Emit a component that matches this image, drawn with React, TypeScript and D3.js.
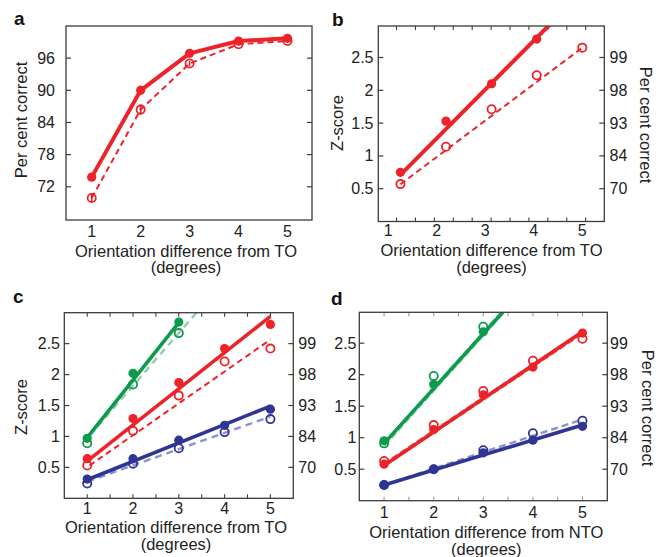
import React from 'react';
import * as d3 from 'd3';

const RED = '#ec2329';
const GREEN = '#0c9a4b';
const BLUE = '#2f3593';
const LGREEN = '#8fd2a8';
const LBLUE = '#8e90d2';
const AXIS = '#3c3c3c';
const FONT = "'Liberation Sans', Arial, Helvetica, sans-serif";

// ---------- data ----------
const xInt = [1, 2, 3, 4, 5];
const zTicks = [0.5, 1, 1.5, 2, 2.5];
const zTickLabels = ['0.5', '1', '1.5', '2', '2.5'];
const pctTickLabels = ['70', '84', '93', '98', '99'];
const xTickLabels = ['1', '2', '3', '4', '5'];

// panel a (per cent correct)
const aYTicks = [72, 78, 84, 90, 96];
const aFilled = [73.8, 90.0, 96.9, 99.2, 99.7];
const aFilledErr = [0.6, 0.9, 0.3, 0.25, 0.2];
const aOpen = [69.9, 86.4, 95.0, 98.6, 99.2];
const aOpenErr = [0.9, 1.0, 0.5, 0.3, 0.25];

// panel b (z-score)
const bX = [1.25, 2.19, 3.13, 4.06, 5.0];
const bFilled = [0.75, 1.53, 2.1, 2.78];
const bOpen = [0.57, 1.14, 1.71, 2.23, 2.65];
// fit lines: [xStart, xEnd, value at xStart, slope]
const bFitFilled = [1.25, 4.6, 0.71, 0.744];
const bFitOpen = [1.25, 5.0, 0.567, 0.555];
const bMinorTicks = [1.17, 1.56, 1.95, 2.34, 2.73, 3.12, 3.51, 3.9, 4.29, 4.68, 5.07];

// panel c
const cGreenFilled = [0.97, 2.02, 2.85];
const cGreenOpen = [0.89, 1.84, 2.67];
const cRedFilled = [0.64, 1.29, 1.87, 2.42, 2.81];
const cRedOpen = [0.53, 1.09, 1.66, 2.21, 2.42];
const cBlueFilled = [0.31, 0.64, 0.94, 1.18, 1.44];
const cBlueOpen = [0.24, 0.56, 0.81, 1.07, 1.28];
const cFitGreenFilled = [1, 3, 0.98, 0.93];
const cFitGreenOpen = [1.05, 3.6, 1.01, 0.852];
const cFitRedFilled = [1, 5, 0.6, 0.585];
const cFitRedOpen = [1.05, 5, 0.53, 0.515];
const cFitBlueFilled = [1, 5, 0.3, 0.2975];
const cFitBlueOpen = [1, 5, 0.27, 0.2625];

// panel d
const dGreenFilled = [0.95, 1.85, 2.68];
const dGreenOpen = [0.91, 1.98, 2.76];
const dRedFilled = [0.58, 1.13, 1.68, 2.12, 2.66];
const dRedOpen = [0.63, 1.2, 1.74, 2.22, 2.57];
const dBlueFilled = [0.25, 0.5, 0.76, 0.96, 1.18];
const dBlueOpen = [0.25, 0.5, 0.8, 1.07, 1.27];
const dFitGreenFilled = [1, 3.6, 0.91, 0.87];
const dFitGreenOpen = [1, 3.6, 0.89, 0.88];
const dFitRedFilled = [1, 5, 0.56, 0.53];
const dFitRedOpen = [1, 5, 0.57, 0.525];
const dFitBlueFilled = [1, 5, 0.25, 0.2375];
const dFitBlueOpen = [1, 5, 0.25, 0.26];

const halfTicks = [1, 1.5, 2, 2.5, 3, 3.5, 4, 4.5, 5];

type Box = { l: number; r: number; t: number; b: number };
type Series = { x: number[]; y: number[]; color: string; filled: boolean; err?: number[] };
type Fit = { p: number[]; color: string; width: number; dash?: string };
type Conn = { x: number[]; y: number[]; color: string; width: number; dash?: string };

type PanelProps = {
  id: string;
  box: Box;
  xDomain: [number, number];
  yDomain: [number, number];
  yTicks: number[];
  yLabels: string[];
  leftLabelX: number;
  rightLabels?: string[];
  rightLabelX?: number;
  xLabelBaseline: number;
  minorX?: number[];
  minorColor?: string;
  series: Series[];
  fits?: Fit[];
  conns?: Conn[];
};

function Panel(p: PanelProps) {
  const { box } = p;
  const x = d3.scaleLinear().domain(p.xDomain).range([box.l, box.r]);
  const y = d3.scaleLinear().domain(p.yDomain).range([box.b, box.t]);
  const line = d3
    .line<[number, number]>()
    .x((d) => x(d[0]))
    .y((d) => y(d[1]));
  const TL = 5;
  const clipId = 'clip-' + p.id;
  return (
    <g>
      <defs>
        <clipPath id={clipId}>
          <rect x={box.l} y={box.t} width={box.r - box.l} height={box.b - box.t} />
        </clipPath>
      </defs>
      {(p.minorX || []).map((v, i) => (
        <g key={'mx' + i} stroke={p.minorColor || AXIS} strokeWidth={1.1}>
          <line x1={x(v)} x2={x(v)} y1={box.t} y2={box.t + 4} />
          <line x1={x(v)} x2={x(v)} y1={box.b} y2={box.b - 4} />
        </g>
      ))}
      {p.yTicks.map((v, i) => (
        <g key={'yt' + i} stroke={AXIS} strokeWidth={1.2}>
          <line x1={box.l} x2={box.l + TL} y1={y(v)} y2={y(v)} />
          <line x1={box.r} x2={box.r - TL} y1={y(v)} y2={y(v)} />
        </g>
      ))}
      <g clipPath={`url(#${clipId})`}>
        {(p.conns || []).map((c, i) => (
          <path
            key={'c' + i}
            d={line(c.x.map((xv, j) => [xv, c.y[j]] as [number, number])) || ''}
            fill="none"
            stroke={c.color}
            strokeWidth={c.width}
            strokeDasharray={c.dash}
            strokeLinejoin="round"
          />
        ))}
        {(p.fits || []).map((f, i) => {
          const [x0, x1, y0, s] = f.p;
          const pts: [number, number][] = [
            [x0, y0],
            [x1, y0 + s * (x1 - x0)],
          ];
          return (
            <path
              key={'f' + i}
              d={line(pts) || ''}
              fill="none"
              stroke={f.color}
              strokeWidth={f.width}
              strokeDasharray={f.dash}
            />
          );
        })}
      </g>
      {p.series.map((s, i) =>
        s.y.map((v, j) => (
          <g key={'s' + i + '-' + j}>
            {s.err && (
              <line
                x1={x(s.x[j])}
                x2={x(s.x[j])}
                y1={y(v - s.err[j])}
                y2={y(v + s.err[j])}
                stroke={s.color}
                strokeWidth={1.6}
              />
            )}
            <circle
              cx={x(s.x[j])}
              cy={y(v)}
              r={s.filled ? 4.6 : 4.1}
              fill={s.filled ? s.color : 'none'}
              stroke={s.color}
              strokeWidth={s.filled ? 0 : 1.8}
            />
          </g>
        ))
      )}
      <rect
        x={box.l}
        y={box.t}
        width={box.r - box.l}
        height={box.b - box.t}
        fill="none"
        stroke={AXIS}
        strokeWidth={1.3}
      />
      <g fontFamily={FONT} fontSize={16} fill="#222">
        {p.yTicks.map((v, i) => (
          <text key={'yl' + i} x={p.leftLabelX} y={y(v)} dy="0.35em" textAnchor="end">
            {p.yLabels[i]}
          </text>
        ))}
        {p.rightLabels &&
          p.yTicks.map((v, i) => (
            <text key={'yr' + i} x={p.rightLabelX} y={y(v)} dy="0.35em" textAnchor="start">
              {p.rightLabels![i]}
            </text>
          ))}
        {xInt.map((v, i) => (
          <text key={'xl' + i} x={x(v)} y={p.xLabelBaseline} textAnchor="middle">
            {xTickLabels[i]}
          </text>
        ))}
      </g>
    </g>
  );
}

function XTitle({ cx, y1, y2, text }: { cx: number; y1: number; y2: number; text: string }) {
  return (
    <g fontFamily={FONT} fontSize={16.5} fill="#222" textAnchor="middle">
      <text x={cx} y={y1}>{text}</text>
      <text x={cx} y={y2}>(degrees)</text>
    </g>
  );
}

function YTitle({ cx, cy, rot, text }: { cx: number; cy: number; rot: number; text: string }) {
  return (
    <text
      transform={`translate(${cx},${cy}) rotate(${rot})`}
      dy="0.35em"
      textAnchor="middle"
      fontFamily={FONT}
      fontSize={16.5}
      fill="#222"
    >
      {text}
    </text>
  );
}

function Letter({ x, y, t }: { x: number; y: number; t: string }) {
  return (
    <text x={x} y={y} fontFamily={FONT} fontWeight="bold" fontSize={19} fill="#111">
      {t}
    </text>
  );
}

export default function App() {
  return (
    <svg
      width={669}
      height={557}
      style={{ position: 'absolute', left: 0, top: 0, background: '#fff' }}
    >
      <rect width={669} height={557} fill="#fff" />
      {/* a */}
      <Panel
        id="a"
        box={{ l: 66, r: 312, t: 26, b: 220 }}
        xDomain={[0.475, 5.5]}
        yDomain={[65.8, 102]}
        yTicks={aYTicks}
        yLabels={aYTicks.map(String)}
        leftLabelX={55}
        xLabelBaseline={237}
        conns={[
          { x: xInt, y: aOpen, color: RED, width: 2, dash: '6,4' },
          { x: xInt, y: aFilled, color: RED, width: 4 },
        ]}
        series={[
          { x: xInt, y: aOpen, color: RED, filled: false, err: aOpenErr },
          { x: xInt, y: aFilled, color: RED, filled: true, err: aFilledErr },
        ]}
      />
      <Letter x={14} y={25} t="a" />
      <YTitle cx={21} cy={120} rot={-90} text="Per cent correct" />
      <XTitle cx={186} y1={256.5} y2={273} text="Orientation difference from TO" />

      {/* b */}
      <Panel
        id="b"
        box={{ l: 378.3, r: 604.3, t: 26, b: 221.5 }}
        xDomain={[0.794, 5.454]}
        yDomain={[0, 2.98]}
        yTicks={zTicks}
        yLabels={zTickLabels}
        leftLabelX={373.5}
        rightLabels={pctTickLabels}
        rightLabelX={609.5}
        xLabelBaseline={236}
        minorX={bMinorTicks}
        fits={[
          { p: bFitOpen, color: RED, width: 2, dash: '6,4' },
          { p: bFitFilled, color: RED, width: 4 },
        ]}
        series={[
          { x: bX, y: bOpen, color: RED, filled: false },
          { x: bX, y: bFilled, color: RED, filled: true },
        ]}
      />
      <Letter x={332} y={26} t="b" />
      <YTitle cx={337.5} cy={123} rot={-90} text="Z-score" />
      <YTitle cx={646} cy={125} rot={90} text="Per cent correct" />
      <XTitle cx={491.5} y1={256} y2={273} text="Orientation difference from TO" />

      {/* c */}
      <Panel
        id="c"
        box={{ l: 64.3, r: 293.3, t: 312.7, b: 498.3 }}
        xDomain={[0.5, 5.5]}
        yDomain={[0, 3.0]}
        yTicks={zTicks}
        yLabels={zTickLabels}
        leftLabelX={60}
        rightLabels={pctTickLabels}
        rightLabelX={298.3}
        xLabelBaseline={514}
        minorX={halfTicks}
        fits={[
          { p: cFitGreenOpen, color: LGREEN, width: 2.4, dash: '7,5' },
          { p: cFitRedOpen, color: RED, width: 2, dash: '6,4' },
          { p: cFitBlueOpen, color: LBLUE, width: 2.4, dash: '7,5' },
          { p: cFitGreenFilled, color: GREEN, width: 3.6 },
          { p: cFitRedFilled, color: RED, width: 3.6 },
          { p: cFitBlueFilled, color: BLUE, width: 3.6 },
        ]}
        series={[
          { x: xInt, y: cGreenOpen, color: GREEN, filled: false },
          { x: xInt, y: cRedOpen, color: RED, filled: false },
          { x: xInt, y: cBlueOpen, color: BLUE, filled: false },
          { x: xInt, y: cGreenFilled, color: GREEN, filled: true },
          { x: xInt, y: cRedFilled, color: RED, filled: true },
          { x: xInt, y: cBlueFilled, color: BLUE, filled: true },
        ]}
      />
      <Letter x={13} y={303} t="c" />
      <YTitle cx={21} cy={407} rot={-90} text="Z-score" />
      <XTitle cx={176} y1={532.5} y2={549.5} text="Orientation difference from TO" />

      {/* d */}
      <Panel
        id="d"
        box={{ l: 359.3, r: 607.3, t: 312.3, b: 500.7 }}
        xDomain={[0.5, 5.5]}
        yDomain={[0, 2.99]}
        yTicks={zTicks}
        yLabels={zTickLabels}
        leftLabelX={356.5}
        rightLabels={pctTickLabels}
        rightLabelX={610}
        xLabelBaseline={517.5}
        minorX={halfTicks}
        minorColor="#9a9a9a"
        fits={[
          { p: dFitGreenOpen, color: LGREEN, width: 4.5, dash: '7,3' },
          { p: dFitRedOpen, color: '#f06a6e', width: 4, dash: '7,3' },
          { p: dFitBlueOpen, color: LBLUE, width: 2.4, dash: '7,4' },
          { p: dFitGreenFilled, color: GREEN, width: 3.6 },
          { p: dFitRedFilled, color: RED, width: 3.6 },
          { p: dFitBlueFilled, color: BLUE, width: 3.6 },
        ]}
        series={[
          { x: xInt, y: dGreenFilled, color: GREEN, filled: true },
          { x: xInt, y: dRedFilled, color: RED, filled: true },
          { x: xInt, y: dBlueFilled, color: BLUE, filled: true },
          { x: xInt, y: dGreenOpen, color: GREEN, filled: false },
          { x: xInt, y: dRedOpen, color: RED, filled: false },
          { x: xInt, y: dBlueOpen, color: BLUE, filled: false },
        ]}
      />
      <Letter x={331} y={305} t="d" />
      <YTitle cx={648} cy={408} rot={90} text="Per cent correct" />
      <XTitle cx={486.3} y1={538} y2={555} text="Orientation difference from NTO" />
    </svg>
  );
}
